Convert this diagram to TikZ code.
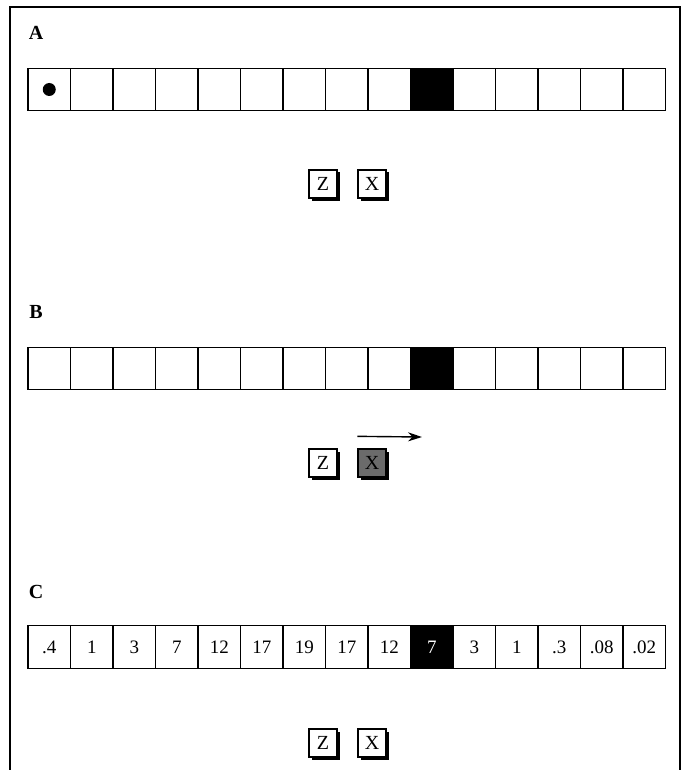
\documentclass[tikz,border=0pt]{standalone}
\usepackage{fontspec}
\setmainfont{Liberation Serif}
\usetikzlibrary{shadows,arrows.meta}

\tikzset{
  cell/.style={draw,line width=1.4pt,minimum size=42.5pt,inner sep=0pt,font=\fontsize{19}{21}\selectfont},
  hit/.style={cell,fill=black,text=white},
  keycap/.style={draw,line width=1.3pt,fill=white,minimum size=28pt,inner sep=0pt,
    font=\fontsize{20}{22}\selectfont,
    drop shadow={shadow xshift=2.5pt,shadow yshift=-2.5pt,fill=black,opacity=1}},
  panel/.style={font=\fontsize{20}{22}\selectfont\bfseries}
}

\begin{document}
\begin{tikzpicture}[x=1pt,y=1pt,>={Stealth[length=14pt,width=9pt]}]
\useasboundingbox (0,0) rectangle (683,-770);
\draw[line width=1.4pt] (10,-770) -- (10,-7) -- (680,-7) -- (680,-770);

% A
\node[panel] (labA) at (36,-33) {A};
\foreach \i in {0,...,14} \node[cell] (a\i) at (49.25+42.5*\i,-89.5) {};
\node[hit] (a9) at (49.25+42.5*9,-89.5) {};
\fill (a0.center) circle (6.5);
\node[keycap] (zA) at (323,-184) {Z};
\node[keycap] (xA) at (372,-184) {X};

% B
\node[panel] (labB) at (36,-312) {B};
\foreach \i in {0,...,14} \node[cell] (b\i) at (49.25+42.5*\i,-368.5) {};
\node[hit] (b9) at (49.25+42.5*9,-368.5) {};
\node[keycap] (zB) at (323,-463) {Z};
\node[keycap,fill=black!58] (xB) at (372,-463) {X};
\coordinate (go) at (422,-437);
\draw[->,line width=1.4pt] (xB.north west) ++(0,12) -- (go);

% C
\node[panel] (labC) at (36,-592) {C};
\foreach \v [count=\i from 0] in {.4,1,3,7,12,17,19,17,12,7,3,1,.3,.08,.02}
  \node[cell] (c\i) at (49.25+42.5*\i,-647) {\v};
\node[hit] (c9) at (49.25+42.5*9,-647) {7};
\node[keycap] (zC) at (323,-743) {Z};
\node[keycap] (xC) at (372,-743) {X};
\end{tikzpicture}
\end{document}
